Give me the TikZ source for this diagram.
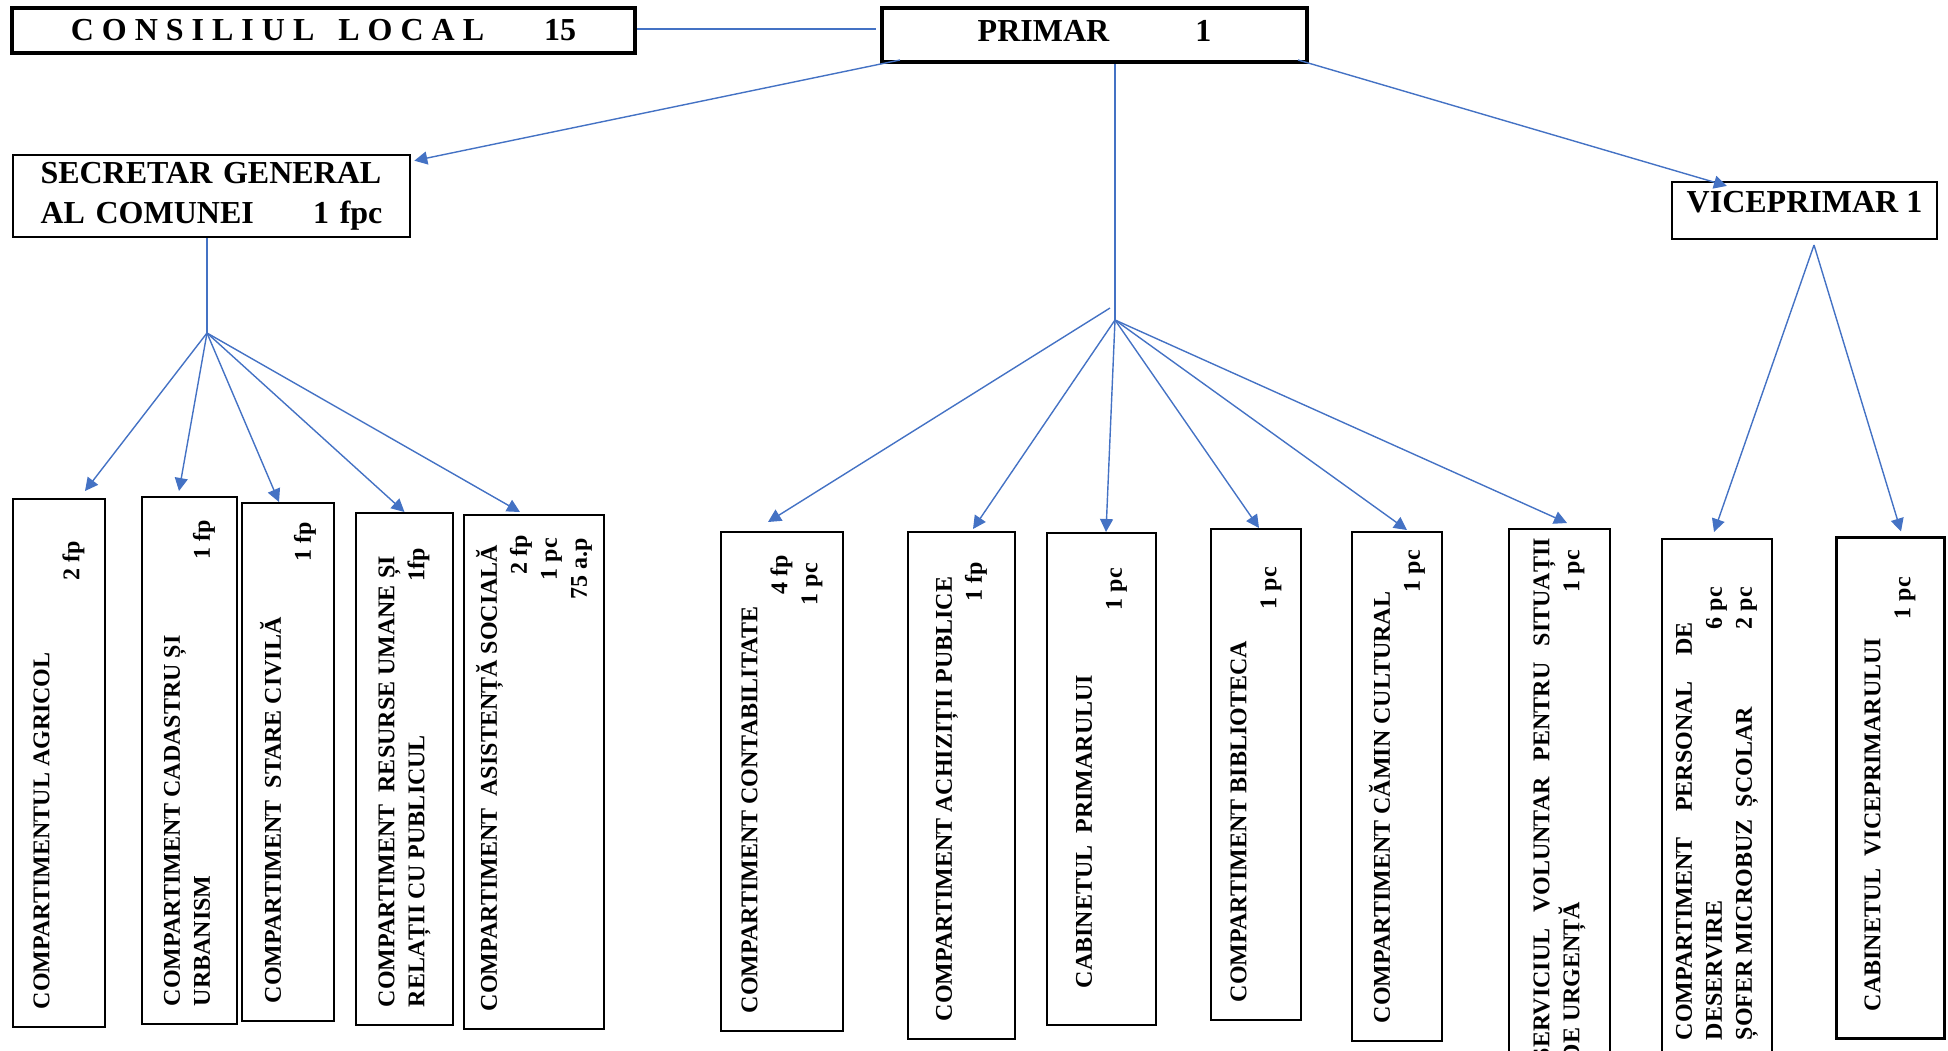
\documentclass[tikz,border=0pt]{standalone}
\usepackage{graphicx}
\usepackage{fontspec}
\setmainfont{Liberation Serif}
\newfontfamily\spacedfont{Liberation Serif}[LetterSpace=25]
\usetikzlibrary{arrows.meta, calc}
\definecolor{linkblue}{RGB}{68,114,196}
% rotated text of a unit box, and a count pushed to the right end of its line
\newcommand{\vlabel}[2]{\rotatebox{90}{\parbox{#1}{\raggedright #2}}}
\newcommand{\cnt}[2]{\hfill #2\kern#1}

\begin{document}
\begin{tikzpicture}[x=0.5pt, y=-0.5pt,
  head/.style={draw, line width=2pt, inner sep=3pt, font=\fontsize{16}{20}\selectfont\bfseries},
  unit/.style={draw, line width=1pt, inner sep=2pt, font=\fontsize{12}{15}\selectfont\bfseries},
  link/.style={draw=linkblue, line width=0.7pt},
  arr/.style={link, -{Triangle[length=6.5pt, width=6.5pt]}}]

\useasboundingbox (0,0) rectangle (1948,1050);
\clip (0,0) rectangle (1948,1050);

% Top level
\node (consiliu) [head, minimum width=311.5pt, minimum height=22.5pt] at (323.5,30.5)
  {{\spacedfont\bfseries CONSILIUL\hspace{12pt}LOCAL}\hspace{30pt}15};
\node (primar) [head, minimum width=212.5pt, minimum height=27pt, text depth=4pt] at (1094.5,35)
  {PRIMAR\hspace{43pt}1};
\node (secretar) [head, line width=1.3pt, minimum width=198.5pt, minimum height=41pt,
  text width=171pt, align=left] at (211.5,196) {\mbox{SECRETAR GENERAL}\\AL COMUNEI\hfill 1 fpc};
\node (vice) [head, line width=1.1pt, minimum width=132.5pt, minimum height=28.5pt,
  text depth=9pt] at (1804.5,210.5) {VICEPRIMAR 1};

% Hubs
\coordinate (shub) at (207,333);
\coordinate (phub) at (1115,320);
\coordinate (phubl) at (1110,308);
\coordinate (vhub) at (1814,245);

% Secretar branch
\node (agricol) [unit, minimum width=46pt, minimum height=264pt] at (59,763)
  {\vlabel{246pt}{COMPARTIMENTUL AGRICOL\\\mbox{}\cnt{12pt}{2 fp}}};
\node (cadastru) [unit, minimum width=47.5pt, minimum height=263.5pt] at (189.5,760.5)
  {\vlabel{245.5pt}{COMPARTIMENT CADASTRU ȘI\\URBANISM\cnt{2.5pt}{1 fp}}};
\node (stare) [unit, minimum width=46pt, minimum height=259pt] at (288,762)
  {\vlabel{241pt}{COMPARTIMENT\ \ STARE CIVILĂ\\\mbox{}\cnt{0.5pt}{1 fp}}};
\node (resurse) [unit, minimum width=48.5pt, minimum height=256pt] at (404.5,769)
  {\vlabel{238pt}{COMPARTIMENT\ \ RESURSE UMANE ȘI\\RELAȚII CU PUBLICUL\cnt{8.5pt}{1fp}}};
\node (asistenta) [unit, minimum width=70pt, minimum height=257pt] at (534,772)
  {\vlabel{239pt}{COMPARTIMENT\ \ ASISTENȚĂ SOCIALĂ\\\mbox{}\cnt{1pt}{2 fp}\\\mbox{}\cnt{2.5pt}{1 pc}\\\mbox{}\cnt{2.5pt}{75 a.p}}};

% Primar branch
\node (contabilitate) [unit, minimum width=61pt, minimum height=249.5pt] at (782,781.5)
  {\vlabel{231.5pt}{COMPARTIMENT CONTABILITATE\\\mbox{}\cnt{2.5pt}{4 fp}\\\mbox{}\cnt{6.5pt}{1 pc}}};
\node (achizitii) [unit, minimum width=53.5pt, minimum height=253.5pt] at (961.5,785.5)
  {\vlabel{235.5pt}{COMPARTIMENT ACHIZIȚII PUBLICE\\\mbox{}\cnt{6pt}{1 fp}}};
\node (cabprimar) [unit, minimum width=54.5pt, minimum height=246pt] at (1101.5,779)
  {\vlabel{228pt}{\hspace*{9.5pt}CABINETUL\ \ PRIMARULUI\\\mbox{}\cnt{8.5pt}{1 pc}}};
\node (biblioteca) [unit, minimum width=45pt, minimum height=245.5pt] at (1256,774.5)
  {\vlabel{227.5pt}{COMPARTIMENT BIBLIOTECA\\\mbox{}\cnt{10pt}{1 pc}}};
\node (camin) [unit, minimum width=45pt, minimum height=254.5pt] at (1397,786.5)
  {\vlabel{236.5pt}{COMPARTIMENT CĂMIN CULTURAL\\\mbox{}\cnt{0pt}{1 pc}}};
\node (serviciu) [unit, minimum width=50.5pt, minimum height=270.5pt] at (1559.5,799.5)
  {\vlabel{261.5pt}{SERVICIUL \hfill VOLUNTAR \hfill PENTRU \hfill SITUAȚII\\DE URGENȚĂ\cnt{6pt}{1 pc}}};

% Viceprimar branch
\node (personal) [unit, minimum width=55pt, minimum height=259.5pt] at (1717,798.5)
  {\vlabel{241.5pt}{COMPARTIMENT \hfill PERSONAL \hfill DE\kern32.5pt\\DESERVIRE\cnt{15pt}{6 pc}\\ȘOFER MICROBUZ\ \ ȘCOLAR\cnt{15pt}{2 pc}}};
\node (cabvice) [unit, line width=1.5pt, minimum width=54pt, minimum height=250.5pt] at (1890,787.5)
  {\vlabel{232.5pt}{\hspace*{4.5pt}CABINETUL\ \ VICEPRIMARULUI\\\mbox{}\cnt{11pt}{1 pc}}};

% Top links
\draw[link, shorten >=2pt] ([yshift=0.75pt]consiliu.east) -- ([yshift=0.75pt]consiliu.east -| primar.west);
\draw[arr] ($(primar.south west)+(20,-4)$) -- ($(secretar.north east)+(3,7)$);
\draw[arr] ($(primar.south east)+(-11,-4)$) -- ($(vice.north west)+(56,5)$);
\draw[link] (primar.south -| phub) -- (phub);
\draw[link] (secretar.south -| shub) -- (shub);

% Secretar arrows
\draw[arr] (shub) -- ($(agricol.north)+(26,-7)$);
\draw[arr] (shub) -- ($(cadastru.north)+(-10.5,-5)$);
\draw[arr] (shub) -- ($(stare.north)+(-9,0)$);
\draw[arr] (shub) -- (resurse.north);
\draw[arr] (shub) -- ($(asistenta.north)+(-14,-2)$);

% Primar arrows
\draw[arr] (phubl) -- ($(contabilitate.north)+(-14,-9)$);
\draw[arr] (phub) -- ($(achizitii.north)+(11.5,-2)$);
\draw[arr] (phub) -- ($(cabprimar.north)+(4.5,0)$);
\draw[arr] (phub) -- ($(biblioteca.north)+(3,0)$);
\draw[arr] (phub) -- ($(camin.north)+(10,-1)$);
\draw[arr] (phub) -- ($(serviciu.north)+(7.5,-5)$);

% Viceprimar arrows
\draw[arr] (vhub) -- ($(personal.north)+(-3,-6)$);
\draw[arr] (vhub) -- ($(cabvice.north)+(11,-4)$);

\end{tikzpicture}
\end{document}
